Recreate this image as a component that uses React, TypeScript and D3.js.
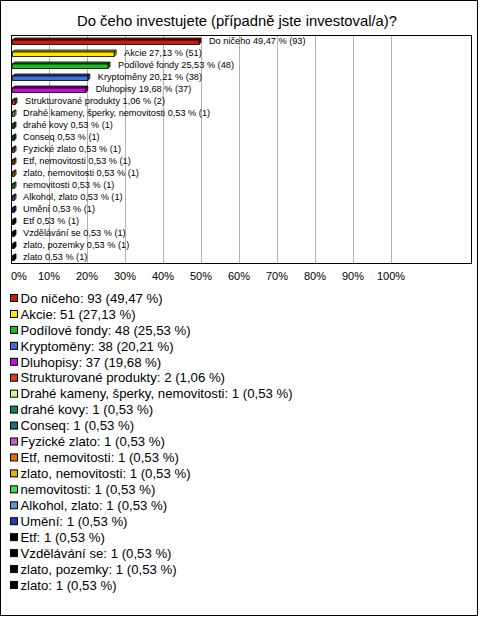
import React from "react";
import * as d3 from "d3";

const title = "Do čeho investujete (případně jste investoval/a)?";
const categories = [
  "Do ničeho",
  "Akcie",
  "Podílové fondy",
  "Kryptoměny",
  "Dluhopisy",
  "Strukturované produkty",
  "Drahé kameny, šperky, nemovitosti",
  "drahé kovy",
  "Conseq",
  "Fyzické zlato",
  "Etf, nemovitosti",
  "zlato, nemovitosti",
  "nemovitosti",
  "Alkohol, zlato",
  "Umění",
  "Etf",
  "Vzdělávání se",
  "zlato, pozemky",
  "zlato",
];
const counts = [93, 51, 48, 38, 37, 2, 1, 1, 1, 1, 1, 1, 1, 1, 1, 1, 1, 1, 1];
const percents = [49.47, 27.13, 25.53, 20.21, 19.68, 1.06, 0.53, 0.53, 0.53, 0.53, 0.53, 0.53, 0.53, 0.53, 0.53, 0.53, 0.53, 0.53, 0.53];
const colors = [
  "#c0200e",
  "#ffe800",
  "#20bb20",
  "#4070e0",
  "#c010d0",
  "#e04010",
  "#ccff88",
  "#108850",
  "#107888",
  "#c060c0",
  "#e07010",
  "#e0b010",
  "#40e040",
  "#6090e0",
  "#2040b0",
  "#000000",
  "#000000",
  "#000000",
  "#000000",
];
const ticks = [0, 10, 20, 30, 40, 50, 60, 70, 80, 90, 100];

const fmt = (v: number) => d3.format(".2f")(v).replace(".", ",");

export default function App() {
  const W = 480;
  const H = 617;
  const plot = { left: 11, right: 471, top: 35, bottom: 263 };
  const x = d3.scaleLinear().domain([0, 100]).range([plot.left, 391]);
  const y = d3
    .scaleBand<number>()
    .domain(d3.range(categories.length))
    .range([plot.top, plot.bottom])
    .padding(0);
  const font = "'Liberation Sans', Arial, sans-serif";
  const d = 2;

  const legendY = d3.scaleLinear().domain([0, categories.length - 1]).range([298, 585]);

  return (
    <svg
      width={W}
      height={H}
      style={{ position: "absolute", left: 0, top: 0, display: "block", background: "#fff" }}
      fontFamily={font}
    >
      <rect x={0.5} y={0.5} width={477} height={615} fill="#fff" stroke="#000" />
      <text x={237} y={26} textAnchor="middle" fontSize={14.8} fill="#000">
        {title}
      </text>
      {/* gridlines */}
      {ticks.slice(1).map((t) => (
        <line
          key={"g" + t}
          x1={Math.round(x(t)) + 0.5}
          x2={Math.round(x(t)) + 0.5}
          y1={plot.top}
          y2={plot.bottom}
          stroke="#b3b3b3"
          strokeWidth={1}
        />
      ))}
      <rect
        x={plot.left + 0.5}
        y={plot.top + 0.5}
        width={plot.right - plot.left}
        height={plot.bottom - plot.top}
        fill="none"
        stroke="#000"
        strokeWidth={1}
      />
      {/* bars */}
      {categories.map((c, i) => {
        const cy = (y(i) as number) + y.bandwidth() / 2;
        const x0 = plot.left + 1.5;
        const x1 = Math.max(x(percents[i]), x0 + 1.5);
        const top = cy - 1;
        const bot = cy + 3.5;
        const col = colors[i];
        const dark = d3.color(col)!.darker(0.8).toString();
        return (
          <g key={"b" + i}>
            <polygon
              points={`${x0},${top} ${x0 + d},${top - d} ${x1 + d},${top - d} ${x1},${top}`}
              fill={dark}
              stroke="#000"
              strokeWidth={0.8}
            />
            <polygon
              points={`${x1},${top} ${x1 + d},${top - d} ${x1 + d},${bot - d} ${x1},${bot}`}
              fill={dark}
              stroke="#000"
              strokeWidth={0.8}
            />
            <rect x={x0} y={top} width={x1 - x0} height={bot - top} fill={col} stroke="#000" strokeWidth={0.8} />
            <text x={x(percents[i]) + 10} y={cy} dy="0.35em" fontSize={9.2} fill="#000">
              {`${c} ${fmt(percents[i])} % (${counts[i]})`}
            </text>
          </g>
        );
      })}
      {/* x tick labels */}
      {ticks.map((t) => (
        <text
          key={"t" + t}
          x={t === 0 ? plot.left : x(t)}
          y={280}
          textAnchor={t === 0 ? "start" : "middle"}
          fontSize={11}
          fill="#000"
        >
          {t + "%"}
        </text>
      ))}
      {/* legend */}
      {categories.map((c, i) => {
        const ly = legendY(i);
        return (
          <g key={"l" + i}>
            <rect x={10.5} y={ly - 3.5} width={7} height={7} fill={colors[i]} stroke="#000" strokeWidth={1} />
            <text x={20.5} y={ly} dy="0.36em" fontSize={13.2} fill="#000">
              {`${c}: ${counts[i]} (${fmt(percents[i])} %)`}
            </text>
          </g>
        );
      })}
    </svg>
  );
}
